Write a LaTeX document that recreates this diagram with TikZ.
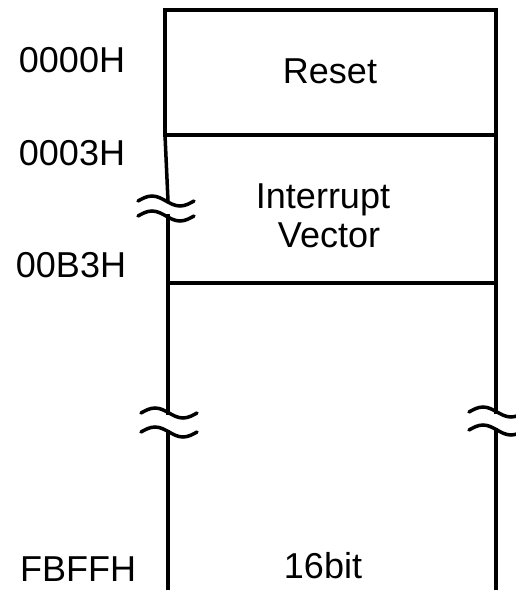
\documentclass[tikz,border=0pt]{standalone}
\usepackage{fontspec}
\setmainfont{Liberation Sans}
\usetikzlibrary{positioning}
\tikzset{
  % Memory map styles
  wall/.style={line width=3.5pt, line cap=rect},
  brk/.style={line width=3.5pt, line cap=round},
  addr/.style={anchor=base, inner sep=0pt, font=\fontsize{36}{39}\selectfont},
  field/.style={anchor=base, inner sep=0pt, font=\fontsize{36}{39}\selectfont},
}
\newcommand{\wavebreak}[3]{% centre x, first wave y, second wave y
  \draw[brk] (#1-28,#2) sin (#1-14,#2-5) cos (#1,#2) sin (#1+14,#2+5) cos (#1+28,#2);
  \draw[brk] (#1-28,#3) sin (#1-14,#3-5) cos (#1,#3) sin (#1+14,#3+5) cos (#1+28,#3);
}
\begin{document}
\begin{tikzpicture}[x=1pt, y=-1pt]
    \useasboundingbox (0,0) rectangle (515,590);

    % Outline
    \draw[wall] (165,135) -- (165,10) -- (496,10) -- (496,412);
    \draw[wall] (496,430) -- (496,592);
    \draw[wall] (165,135) -- (168,201);
    \draw[wall] (168,216) -- (168,413);
    \draw[wall] (168,432) -- (168,592);

    % Field borders
    \draw[wall] (165,135) -- (496,135);
    \draw[wall] (168,283) -- (496,283);

    % Breaks
    \wavebreak{166}{201}{216}
    \wavebreak{169}{413}{432}
    \wavebreak{497}{412}{430}

    % Addresses
    \node[addr] (a0000) at (72,72) {0000H};
    \node[addr] (a0003) at (72,165) {0003H};
    \node[addr] (a00b3) at (71,277) {00B3H};
    \node[addr] (afbff) at (78,581) {FBFFH};

    % Fields
    \node[field] (reset) at (330,83) {Reset};
    \node[field] (intr) at (323,208) {Interrupt};
    \node[field] (vect) at (329,247) {Vector};
    \node[field] (width) at (323,578) {16bit};
\end{tikzpicture}
\end{document}
